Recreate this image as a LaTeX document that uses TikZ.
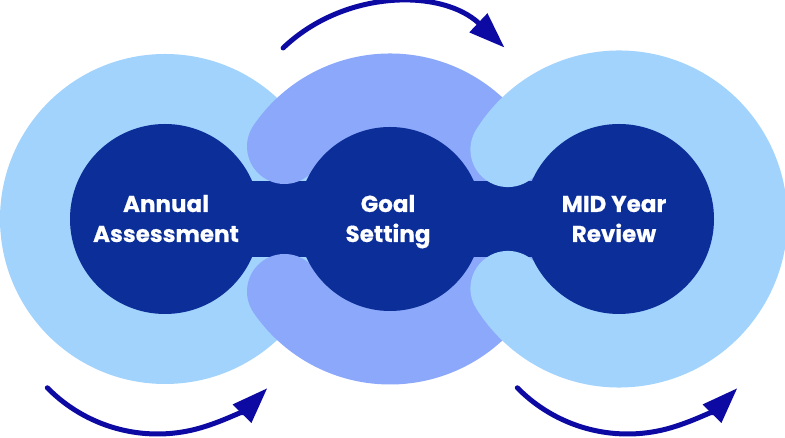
\documentclass[tikz,border=0pt]{standalone}
\usepackage{fontspec}
\setmainfont{Poppins}
\newfontfamily\labelfont{Poppins}[BoldFeatures={FakeBold=0.5}]
\usetikzlibrary{arrows.meta}
\definecolor{lightring}{HTML}{A1D3FD}
\definecolor{periring}{HTML}{8BA8FA}
\definecolor{navy}{HTML}{0C2E99}
\definecolor{arrowblue}{HTML}{0C0AA3}
\tikzset{
  ring/.style={line width=75pt, line cap=round},
  hub/.style={circle, fill=navy, inner sep=0pt},
  label/.style={text=white, font=\labelfont\bfseries\fontsize{23}{29}\selectfont, anchor=base, inner sep=0pt},
  cyclearrow/.style={draw=arrowblue, line width=5pt, line cap=round, -{Triangle[length=36pt,width=25pt]}}
}
\begin{document}
\begin{tikzpicture}[x=1pt,y=1pt]
\useasboundingbox (0,0) rectangle (785,438);
% centres
\coordinate (cL) at (165,219);
\coordinate (cM) at (390,219);
\coordinate (cR) at (619,219);
% left ring
\fill[lightring] (cL) circle[radius=165pt];
% left neck
\fill[navy] (165,181) rectangle (390,257);
% middle ring
\draw[ring, periring] (cM) ++(145.5:128pt) arc[start angle=145.5, end angle=-145.5, radius=128pt];
% right neck
\fill[navy] (390,181) rectangle (619,257);
% right ring
\draw[ring, lightring] (cR) ++(148:131pt) arc[start angle=148, end angle=-148, radius=131pt];
% hubs
\node[hub, minimum size=190pt] (hL) at (cL) {};
\node[hub, minimum size=184pt] (hM) at (cM) {};
\node[hub, minimum size=190pt] (hR) at (cR) {};
% labels
\node[label] (tL1) at (166,226) {Annual};
\node[label] (tL2) at (166,196) {Assessment};
\node[label] (tM1) at (388,226) {Goal};
\node[label] (tM2) at (388,196) {Setting};
\node[label] (tR1) at (614,226) {MID Year};
\node[label] (tR2) at (614,196) {Review};
% arrows
\coordinate (aTc) at (394,274);
\coordinate (aLc) at (157.5,158.5);
\coordinate (aRc) at (627.5,158.5);
\draw[cyclearrow] (aTc) ++(133.7:160.5pt) arc[start angle=133.7, end angle=46.5, radius=160.5pt];
\draw[cyclearrow] (aLc) ++(224.5:154.5pt) arc[start angle=224.5, end angle=315.3, radius=154.5pt];
\draw[cyclearrow] (aRc) ++(224.5:154.5pt) arc[start angle=224.5, end angle=315.3, radius=154.5pt];
\end{tikzpicture}
\end{document}
